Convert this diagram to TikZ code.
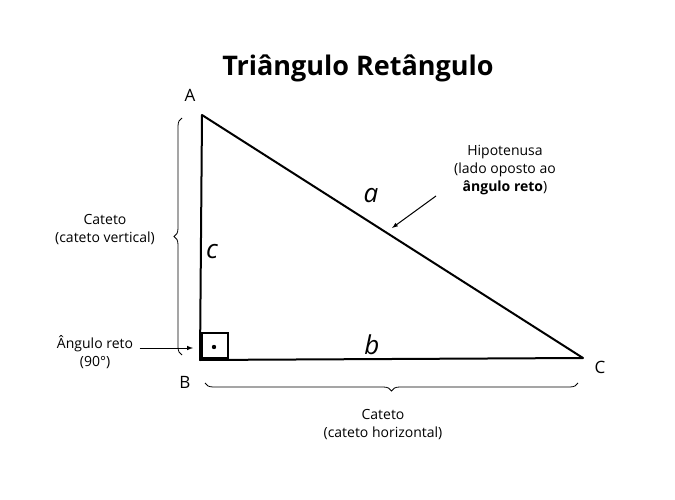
\documentclass[tikz,border=0pt]{standalone}
\usepackage{fontspec}
\setmainfont{Open Sans}
\usetikzlibrary{decorations.pathreplacing}
\begin{document}
\begin{tikzpicture}[x=1pt,y=-1pt]
  \tikzstyle{every node}=[font=\fontsize{14}{18}\selectfont]
  \tikzstyle{vertex}=[font=\fontsize{17}{20}\selectfont]
  \tikzstyle{side}=[font=\fontsize{26}{28}\selectfont\itshape\rmfamily]
  \tikzstyle{brace}=[decorate,decoration={brace,amplitude=8pt},line width=0.8pt]
  \useasboundingbox (0,0) rectangle (675,500);

  % title
  \node (title) at (358,68) {\fontsize{27}{30}\selectfont\bfseries Triângulo Retângulo};

  % vertices
  \coordinate (A) at (202,115);
  \coordinate (B) at (200,360);
  \coordinate (C) at (583,358);
  \node[vertex] (lA) at (190,95) {A};
  \node[vertex] (lB) at (185,382) {B};
  \node[vertex] (lC) at (600,367) {C};

  % triangle
  \draw[line width=2pt,line join=round] (A) -- (B) -- (C) -- cycle;
  \draw[line width=1.2pt] (202,333) rectangle (228,358);
  \fill (214,347) circle (2.2pt);

  % sides
  \node[side] (a) at (371,196) {a};
  \node[side] (c) at (212,252) {c};
  \node[side] (b) at (372,345) {b};

  % hypotenuse label
  \node[align=center] (hip) at (505,170) {Hipotenusa\\(lado oposto ao\\\textbf{ângulo reto})};
  \coordinate (hipend) at (392,228);
  \draw[-latex,line width=1pt] (436,196) -- (hipend);

  % angle label
  \node[align=center] (ang) at (95,352) {Ângulo reto\\(90°)};
  \coordinate (angend) at (193,348);
  \draw[-latex,line width=1pt] (ang.east |- angend) ++(3,0) -- (angend);

  % braces
  \draw[brace] (182,355) -- (182,118);
  \node[align=center] (catv) at (105,230) {Cateto\\(cateto vertical)};
  \draw[brace] (578,383) -- (205,383);
  \node[align=center] (cath) at (383,425) {Cateto\\(cateto horizontal)};
\end{tikzpicture}
\end{document}
